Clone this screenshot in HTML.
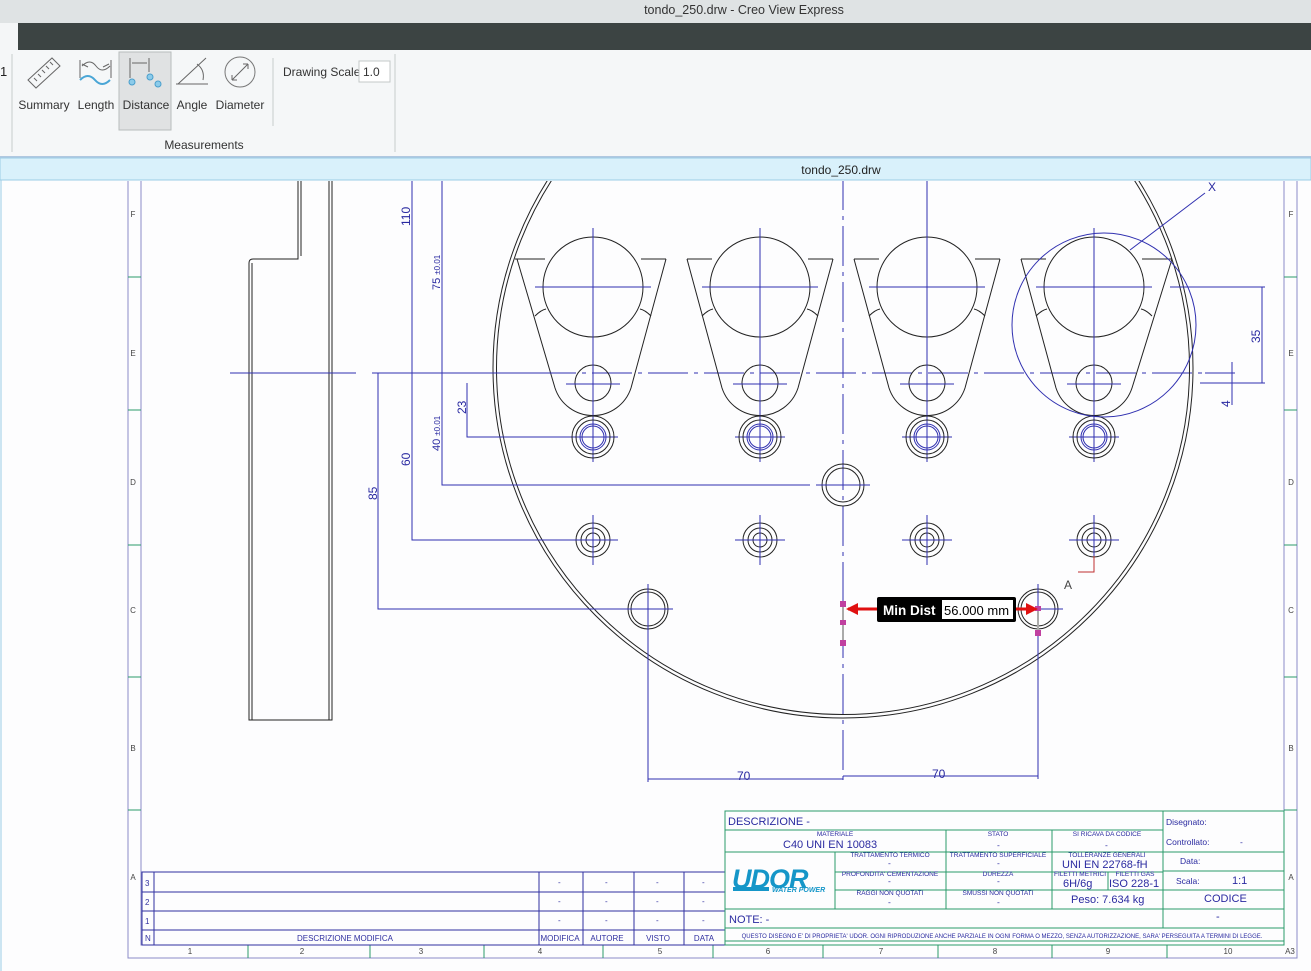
<!DOCTYPE html>
<html><head><meta charset="utf-8"><style>
html,body{margin:0;padding:0;width:1311px;height:971px;overflow:hidden;background:#fdfdfe;font-family:"Liberation Sans",sans-serif}
svg{position:absolute;left:0;top:0}
</style></head><body>
<svg width="1311" height="971" viewBox="0 0 1311 971" xmlns="http://www.w3.org/2000/svg" font-family="Liberation Sans, sans-serif">
<defs><clipPath id="da"><rect x="0" y="181" width="1311" height="790"/></clipPath></defs>
<!-- window chrome -->
<rect x="0" y="0" width="1311" height="23" fill="#dfe3e4"/>
<text x="744" y="14" font-size="12.5" fill="#333" text-anchor="middle">tondo_250.drw - Creo View Express</text>
<rect x="18" y="23" width="1293" height="27" fill="#3c4443"/>
<rect x="0" y="23" width="18" height="27" fill="#f4f6f7"/>
<rect x="0" y="50" width="1311" height="106" fill="#f5f7f8"/>
<text x="0" y="76" font-size="13" fill="#222">1</text>
<line x1="12" y1="54" x2="12" y2="152" stroke="#c8cccd"/>
<line x1="273" y1="58" x2="273" y2="126" stroke="#c8cccd"/>
<line x1="395" y1="54" x2="395" y2="152" stroke="#c8cccd"/>
<rect x="119" y="52" width="52" height="78" fill="#e0e2e3" stroke="#b8bcbd"/>
<g stroke="#666" fill="none" stroke-width="1">
<path d="M28 80 L52 58 L60 66 L36 88 Z"/>
<path d="M34 78l3 3M38 74l3 3M42 70l3 3M46 66l3 3M50 62l3 3"/>
<path d="M80 60v18M111 60v18M82 64l6 3M109 64l-6 3"/>
<path d="M82 66 q8 -8 14 0 t14 0"/>
<path d="M130 58v20M149 58v14M132 63h15"/>
<path d="M176 84h32M178 84l28-26M197 64 q8 6 6 16"/>
<circle cx="240" cy="72" r="15" stroke="#777"/>
<path d="M232 80l16-16M232 80v-5M232 80h5M248 64h-5M248 64v5"/>
</g>
<path d="M80 80 q8 -8 15 0 t15 0" stroke="#4aa6d6" stroke-width="2" fill="none"/>
<g fill="#8ccbea" stroke="#4a9fcc"><circle cx="132" cy="82" r="3"/><circle cx="150" cy="77" r="3"/><circle cx="158" cy="84" r="3"/></g>
<g font-size="12" fill="#333" text-anchor="middle">
<text x="44" y="109">Summary</text><text x="96" y="109">Length</text><text x="146" y="109">Distance</text><text x="192" y="109">Angle</text><text x="240" y="109">Diameter</text>
<text x="204" y="149">Measurements</text>
</g>
<text x="283" y="76" font-size="12" fill="#333">Drawing Scale</text>
<rect x="359" y="61" width="31" height="21" fill="#fff" stroke="#c4c8c9"/>
<text x="363" y="76" font-size="12" fill="#333">1.0</text>
<rect x="0" y="156" width="1311" height="2" fill="#b0c8e0"/>
<rect x="0" y="158" width="1311" height="22" fill="#d9f1fb" stroke="#9ccde6"/>
<text x="841" y="174" font-size="12" fill="#222" text-anchor="middle">tondo_250.drw</text>
<line x1="1" y1="180" x2="1" y2="971" stroke="#9ccde6"/>

<g clip-path="url(#da)">
<g stroke="#8a8ac8" fill="none" stroke-width="1">
<rect x="128" y="170" width="1169" height="788"/>
<rect x="141" y="170" width="1143" height="775"/>
</g>
<g stroke="#2a9a6a" stroke-width="1">
<path d="M128 277h13M128 410h13M128 545h13M128 677h13M128 810h13M1284 277h13M1284 410h13M1284 545h13M1284 677h13M1284 810h13"/>
<path d="M248 945v13M370 945v13M484 945v13M603 945v13M713 945v13M823 945v13M938 945v13M1052 945v13M1167 945v13"/>
</g>
<g font-size="8" fill="#444" text-anchor="middle">
<text x="133" y="217">F</text><text x="133" y="356">E</text><text x="133" y="485">D</text><text x="133" y="613">C</text><text x="133" y="751">B</text><text x="133" y="880">A</text>
<text x="1291" y="217">F</text><text x="1291" y="356">E</text><text x="1291" y="485">D</text><text x="1291" y="613">C</text><text x="1291" y="751">B</text><text x="1291" y="880">A</text>
<text x="190" y="954">1</text><text x="302" y="954">2</text><text x="421" y="954">3</text><text x="540" y="954">4</text><text x="660" y="954">5</text><text x="768" y="954">6</text><text x="881" y="954">7</text><text x="995" y="954">8</text><text x="1108" y="954">9</text><text x="1228" y="954">10</text><text x="1290" y="954">A3</text>
</g>

<g stroke="#222" fill="none" stroke-width="1">
<path d="M298 170V259H253Q249 259 249 263V720H332V170"/>
<path d="M301 170V256M252 263V720M329 170V720"/>
</g>

<g stroke="#3030b0" stroke-width="1" fill="none">
<path d="M843 170V785" stroke-dasharray="40 6 4 6"/>
<path d="M480 373H1230" stroke-dasharray="40 6 4 6"/>
<path d="M230 373H356"/>
<path d="M1232 362V405M1205 373h30"/>
</g>

<circle cx="843" cy="368" r="350" stroke="#222" fill="none"/>
<circle cx="843" cy="368" r="346.5" stroke="#222" fill="none"/>

<g stroke="#222" fill="none" stroke-width="1">
<path d="M515 259H545M641 259H666M687 259H712M808 259H833M854 259H879M975 259H1000M1021 259H1046M1142 259H1172"/>
</g>
<g stroke="#222" fill="none">
<g><path d="M517 259L555 388A40 40 0 0 0 631 388L666 259"/><circle cx="593" cy="287" r="50"/><circle cx="593" cy="383" r="18"/><path d="M535 316q6-6 11-7M651 316q-6-6-11-7"/></g>
<g transform="translate(167,0)"><path d="M520 259L555 388A40 40 0 0 0 631 388L666 259"/><circle cx="593" cy="287" r="50"/><circle cx="593" cy="383" r="18"/><path d="M535 316q6-6 11-7M651 316q-6-6-11-7"/></g>
<g transform="translate(334,0)"><path d="M520 259L555 388A40 40 0 0 0 631 388L666 259"/><circle cx="593" cy="287" r="50"/><circle cx="593" cy="383" r="18"/><path d="M535 316q6-6 11-7M651 316q-6-6-11-7"/></g>
<g transform="translate(501,0)"><path d="M520 259L555 388A40 40 0 0 0 631 388L671 259"/><circle cx="593" cy="287" r="50"/><circle cx="593" cy="383" r="18"/><path d="M535 316q6-6 11-7M651 316q-6-6-11-7"/></g>
</g>
<g stroke="#3030b0" fill="none">
<g><path d="M593 228V462M535 287H651M566 384H620"/><circle cx="593" cy="437" r="13"/><circle cx="593" cy="437" r="11"/></g>
<g transform="translate(167,0)"><path d="M593 228V462M535 287H651M566 384H620"/><circle cx="593" cy="437" r="13"/><circle cx="593" cy="437" r="11"/></g>
<g transform="translate(334,0)"><path d="M593 170V462M535 287H651M566 384H620"/><circle cx="593" cy="437" r="13"/><circle cx="593" cy="437" r="11"/></g>
<g transform="translate(501,0)"><path d="M593 228V462M535 287H651M566 384H620"/><circle cx="593" cy="437" r="13"/><circle cx="593" cy="437" r="11"/></g>
<path d="M568 437h50M735 437h50M902 437h50M1069 437h50"/>
</g>
<g stroke="#222" fill="none">
<circle cx="593" cy="437" r="21"/><circle cx="593" cy="437" r="17"/>
<circle cx="760" cy="437" r="21"/><circle cx="760" cy="437" r="17"/>
<circle cx="927" cy="437" r="21"/><circle cx="927" cy="437" r="17"/>
<circle cx="1094" cy="437" r="21"/><circle cx="1094" cy="437" r="17"/>
<circle cx="843" cy="485" r="21"/><circle cx="843" cy="485" r="17"/>
<circle cx="593" cy="540" r="17"/><circle cx="593" cy="540" r="12"/><circle cx="593" cy="540" r="7"/>
<circle cx="760" cy="540" r="17"/><circle cx="760" cy="540" r="12"/><circle cx="760" cy="540" r="7"/>
<circle cx="927" cy="540" r="17"/><circle cx="927" cy="540" r="12"/><circle cx="927" cy="540" r="7"/>
<circle cx="1094" cy="540" r="17"/><circle cx="1094" cy="540" r="12"/><circle cx="1094" cy="540" r="7"/>
<circle cx="648" cy="609" r="20"/><circle cx="648" cy="609" r="17"/>
<circle cx="1038" cy="609" r="20"/><circle cx="1038" cy="609" r="17"/>
</g>
<g stroke="#3030b0" fill="none">
<path d="M816 485h54M568 540h50M593 515v50M735 540h50M760 515v50M902 540h50M927 515v50M1069 540h50M1094 522v50M1094 515V530"/>
<path d="M623 609h50M648 584v50M1013 609h50M1038 584v195M648 634V782"/>
<path d="M648 779H843M843 776H1038"/>
<circle cx="1104" cy="325" r="92"/>
<path d="M1130 250L1205 193M1170 287H1265M1200 383H1265M1262 287V383"/>
<path d="M412 170V540H570M442 170V485H810M378 373V609H625M467 383V437H570M372 373H560"/>
<path d="M1094 556V572H1090M1078 572h16" stroke="#c03030"/>
</g>
<g font-size="12" fill="#2828a0">
<text x="1208" y="191">X</text>
<text x="1064" y="589" fill="#444">A</text>
<text x="737" y="780">70</text><text x="932" y="778">70</text>
<text transform="translate(410,226) rotate(-90)">110</text>
<text transform="translate(440,290) rotate(-90)" font-size="11">75 <tspan font-size="8">±0.01</tspan></text>
<text transform="translate(466,414) rotate(-90)">23</text>
<text transform="translate(440,451) rotate(-90)" font-size="11">40 <tspan font-size="8">±0.01</tspan></text>
<text transform="translate(410,466) rotate(-90)">60</text>
<text transform="translate(377,500) rotate(-90)">85</text>
<text transform="translate(1260,343) rotate(-90)">35</text>
<text transform="translate(1230,407) rotate(-90)">4</text>
</g>
</g>

<g>
<path d="M843 603V645M1038 607V636" stroke="#aaa" stroke-width="2"/>
<g fill="#c040a0"><rect x="840" y="601" width="6" height="6"/><rect x="840" y="620" width="6" height="5"/><rect x="840" y="640" width="6" height="6"/><rect x="1035" y="606" width="6" height="5"/><rect x="1035" y="630" width="6" height="6"/></g>
<path d="M848 609H878" stroke="#e01010" stroke-width="3"/><path d="M846 609l12-6v12z" fill="#e01010"/>
<path d="M1015 609H1030" stroke="#e01010" stroke-width="3"/><path d="M1038 609l-12-6v12z" fill="#e01010"/>
<rect x="877" y="597" width="139" height="25" rx="2" fill="#000"/>
<rect x="942" y="600" width="71" height="19" fill="#fff"/>
<text x="883" y="615" font-size="13.5" font-weight="bold" fill="#fff">Min Dist</text>
<text x="944" y="615" font-size="13" fill="#000">56.000 mm</text>
</g>

<g stroke="#3030a0" fill="none" stroke-width="1">
<rect x="142" y="872" width="583" height="73"/>
<path d="M142 892H725M142 911H725M142 930H725M154 872V945M539 872V945M583 872V945M634 872V945M684 872V945"/>
</g>
<g font-size="8" fill="#3030a0">
<text x="145" y="886">3</text><text x="145" y="905">2</text><text x="145" y="924">1</text><text x="145" y="941">N</text>
<text x="345" y="941" text-anchor="middle">DESCRIZIONE MODIFICA</text>
<text x="560" y="941" text-anchor="middle">MODIFICA</text><text x="607" y="941" text-anchor="middle">AUTORE</text><text x="658" y="941" text-anchor="middle">VISTO</text><text x="704" y="941" text-anchor="middle">DATA</text>
<text x="558" y="885">-</text><text x="605" y="885">-</text><text x="656" y="885">-</text><text x="702" y="885">-</text>
<text x="558" y="904">-</text><text x="605" y="904">-</text><text x="656" y="904">-</text><text x="702" y="904">-</text>
<text x="558" y="923">-</text><text x="605" y="923">-</text><text x="656" y="923">-</text><text x="702" y="923">-</text>
</g>

<g stroke="#2a9a6a" fill="none" stroke-width="1">
<rect x="725" y="811" width="559" height="134"/>
<path d="M725 830H1163M725 852H1284M835 872H1163M835 890H1163M725 909H1284M1163 890H1284M1163 871H1284M725 928H1284M725 941H1284M1163 811V928M946 830V909M1052 830V909M1108 872V890M835 852V909"/>
</g>
<g font-size="6.5" fill="#2a2aa0" text-anchor="middle">
<text x="835" y="836">MATERIALE</text><text x="998" y="836">STATO</text><text x="1107" y="836">SI RICAVA DA CODICE</text>
<text x="890" y="857">TRATTAMENTO TERMICO</text><text x="998" y="857">TRATTAMENTO SUPERFICIALE</text><text x="1107" y="857">TOLLERANZE GENERALI</text>
<text x="890" y="876">PROFONDITA' CEMENTAZIONE</text><text x="998" y="876">DUREZZA</text><text x="1080" y="876">FILETTI METRICI</text><text x="1135" y="876">FILETTI GAS</text>
<text x="890" y="895">RAGGI NON QUOTATI</text><text x="998" y="895">SMUSSI NON QUOTATI</text>
<text x="1002" y="938" font-size="6">QUESTO DISEGNO E' DI PROPRIETA' UDOR. OGNI RIPRODUZIONE ANCHE PARZIALE IN OGNI FORMA O MEZZO, SENZA AUTORIZZAZIONE, SARA' PERSEGUITA A TERMINI DI LEGGE.</text>
</g>
<g font-size="11" fill="#2a2aa0">
<text x="728" y="825">DESCRIZIONE  -</text>
<text x="783" y="848">C40 UNI EN 10083</text>
<text x="1062" y="868">UNI EN 22768-fH</text>
<text x="1063" y="887">6H/6g</text><text x="1109" y="887">ISO 228-1</text>
<text x="1071" y="903">Peso: 7.634 kg</text>
<text x="729" y="923">NOTE: -</text>
<text x="1204" y="902">CODICE</text><text x="1216" y="920">-</text>
<text x="1232" y="884">1:1</text>
</g>
<g font-size="8.5" fill="#2a2aa0">
<text x="1166" y="825">Disegnato:</text><text x="1166" y="845">Controllato:</text><text x="1240" y="845">-</text>
<text x="1180" y="864">Data:</text><text x="1176" y="884">Scala:</text>
<text x="888" y="866">-</text><text x="997" y="866">-</text><text x="888" y="884">-</text><text x="997" y="884">-</text>
<text x="888" y="905">-</text><text x="997" y="905">-</text><text x="997" y="848">-</text><text x="1105" y="848">-</text>
</g>
<text x="732" y="888" font-size="27" font-weight="bold" font-style="italic" fill="#1596c8" letter-spacing="-1">UDOR</text>
<rect x="733" y="887" width="36" height="4" fill="#1596c8"/>
<text x="772" y="892" font-size="7" font-weight="bold" font-style="italic" fill="#1596c8">WATER POWER</text>
</svg>
</body></html>
